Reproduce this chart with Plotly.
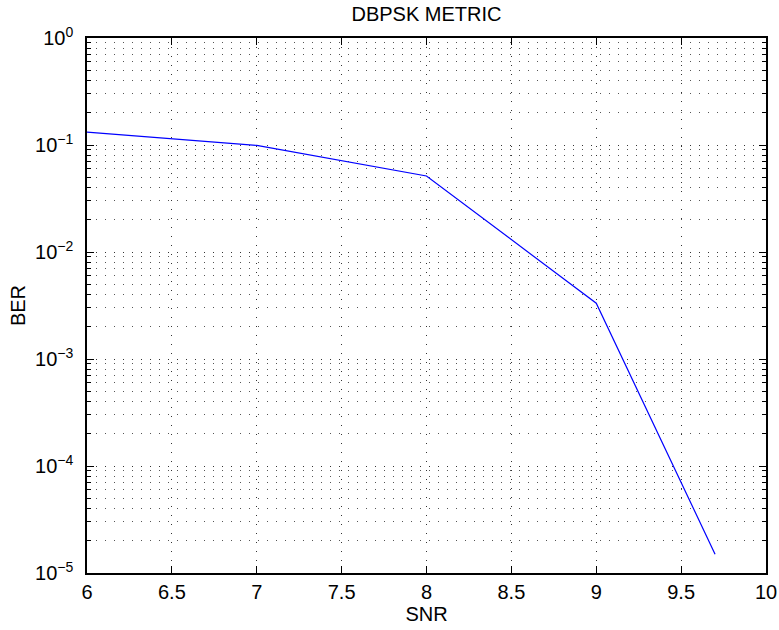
import plotly.graph_objects as go

snr = [6, 7, 8, 9, 9.7]
ber = [0.132, 0.099, 0.0513, 0.00332, 1.5e-5]

x_ticks = [6, 6.5, 7, 7.5, 8, 8.5, 9, 9.5, 10]
y_exps = [-5, -4, -3, -2, -1, 0]
y_ticks = [10.0 ** e for e in y_exps]
y_ticktext = ["10<sup>%s</sup>" % (str(e).replace("-", "\u2212")) for e in y_exps]
y_minor = [m * 10.0 ** e for e in y_exps[:-1] for m in range(2, 10)]

FONT = "Liberation Sans, Arial, Helvetica, sans-serif"
GRIDDASH = "1px,8px"

fig = go.Figure()
fig.add_trace(go.Scatter(x=snr, y=ber, mode="lines",
                         line=dict(color="#0000ff", width=1.2),
                         showlegend=False))

fig.update_layout(
    width=779, height=630,
    margin=dict(l=87, r=13, t=38, b=57),
    paper_bgcolor="white", plot_bgcolor="white",
    font=dict(family=FONT, size=20, color="black"),
    title=dict(text="DBPSK METRIC", x=0.5, xref="paper", xanchor="center",
               y=1 - 14 / 630, yanchor="middle", font=dict(size=20, color="black")),
)

fig.update_xaxes(
    range=[6, 10], tickvals=x_ticks, ticktext=[("%g" % v) for v in x_ticks],
    ticks="inside", ticklen=7, tickcolor="black", tickwidth=1,
    showline=True, linecolor="black", linewidth=1.5, mirror="allticks",
    showgrid=True, gridcolor="#333333", gridwidth=1, griddash=GRIDDASH,
    zeroline=False, automargin=False,
    tickfont=dict(size=20),
    title=dict(text="SNR", standoff=2, font=dict(size=20)),
)

fig.update_yaxes(
    type="log", range=[-5, 0], tickvals=y_ticks, ticktext=y_ticktext,
    ticks="inside", ticklen=7, tickcolor="black", tickwidth=1,
    showline=True, linecolor="black", linewidth=1.5, mirror="allticks",
    showgrid=True, gridcolor="#333333", gridwidth=1, griddash=GRIDDASH,
    zeroline=False, automargin=False,
    tickfont=dict(size=20), ticklabelstandoff=8,
    minor=dict(tickvals=y_minor, ticks="inside", ticklen=4, tickcolor="black",
               showgrid=True, gridcolor="#555555", gridwidth=1, griddash=GRIDDASH),
    title=dict(text="BER", standoff=4, font=dict(size=20)),
)

fig.write_html("out.html")
